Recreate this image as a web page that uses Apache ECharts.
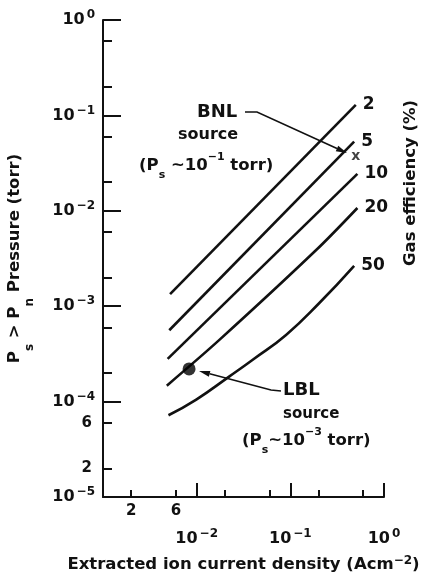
<!DOCTYPE html>
<html><head><meta charset="utf-8">
<script src="https://cdn.jsdelivr.net/npm/echarts@6/dist/echarts.min.js"></script>
<style>html,body{margin:0;padding:0;background:#fff}#c{width:423px;height:583px}</style>
</head><body><div id="c"></div>
<script>
// Gas-efficiency curves: extracted ion current density (A/cm^2) vs pressure (torr)
const efficiencyNames = ['2', '5', '10', '20', '50'];
const eff2Current  = [0.0052, 0.50];
const eff2Pressure = [0.00134, 0.129];
const eff5Current  = [0.0051, 0.48];
const eff5Pressure = [0.00056, 0.053];
const eff10Current  = [0.0049, 0.52];
const eff10Pressure = [0.00028, 0.0244];
const eff20Current  = [0.0048, 0.0176, 0.19, 0.52];
const eff20Pressure = [0.000147, 0.000446, 0.0039, 0.0107];
const eff50Current  = [0.0050, 0.0099, 0.0224, 0.0397, 0.090, 0.204, 0.48];
const eff50Pressure = [0.000072, 0.000105, 0.000184, 0.000275, 0.00050, 0.00108, 0.00265];
// source operating points
const lblPoint = [0.0083, 0.00022];
const bnlPoint = [0.50, 0.037];
// axis ticks / labels
const xMinorTicks  = [2e-3, 6e-3, 2e-2, 6e-2, 2e-1, 6e-1];
const xMinorLabels = [2e-3, 6e-3];
const yMinorTicks  = [2e-5, 6e-5, 2e-4, 6e-4, 2e-3, 6e-3, 2e-2, 6e-2, 2e-1, 6e-1];
const yMinorLabels = [2e-5, 6e-5];

const FONT = 'DejaVu Sans';
const INK = '#111';
const pair = (xs, ys) => xs.map((x, i) => [x, ys[i]]);
const curves = [
  pair(eff2Current, eff2Pressure),
  pair(eff5Current, eff5Pressure),
  pair(eff10Current, eff10Pressure),
  pair(eff20Current, eff20Pressure),
  pair(eff50Current, eff50Pressure)
];
const smoothness = [false, false, false, 0.3, 0.5];

function powLabel(v, hideExp) {
  const e = Math.round(Math.log10(v));
  if (hideExp !== undefined && e === hideExp) return '';
  return '{b|10}{s|' + (e < 0 ? '\u2212' + (-e) : e) + '}';
}
function mantissa(v) { return String(Math.round(Math.pow(10, v - Math.floor(v)))); }

const powRich = {
  b: {fontFamily: FONT, fontWeight: 'bold', fontSize: 16, lineHeight: 22, color: INK},
  s: {fontFamily: FONT, fontWeight: 'bold', fontSize: 12, lineHeight: 12, verticalAlign: 'top', color: INK, padding: [0, 0, 0, 2]}
};
const axisLineStyle = {color: INK, width: 2};

function arrow(points) {
  const n = points.length;
  const [x1, y1] = points[n - 2], [x2, y2] = points[n - 1];
  const a = Math.atan2(y2 - y1, x2 - x1), L = 11, W = 3;
  const bx = x2 - L * Math.cos(a), by = y2 - L * Math.sin(a);
  const px = -Math.sin(a) * W, py = Math.cos(a) * W;
  return [
    {type: 'polyline', silent: true, shape: {points: points.slice(0, n - 1).concat([[bx, by]])},
     style: {stroke: INK, lineWidth: 1.6, fill: null}},
    {type: 'polygon', silent: true, shape: {points: [[x2, y2], [bx + px, by + py], [bx - px, by - py]]},
     style: {fill: INK}}
  ];
}
function txt(x, y, text, size, align, rotation) {
  return {type: 'text', x: x, y: y, rotation: rotation || 0, silent: true, style: {
    text: text, fill: INK, fontFamily: FONT, fontWeight: 'bold', fontSize: size,
    textAlign: align || 'left', textVerticalAlign: 'middle',
    rich: {
      m: {fontFamily: FONT, fontWeight: 'bold', fontSize: size, lineHeight: size + 4, color: INK},
      sub: {fontFamily: FONT, fontWeight: 'bold', fontSize: 11, lineHeight: size + 12, verticalAlign: 'bottom', color: INK},
      sup: {fontFamily: FONT, fontWeight: 'bold', fontSize: 11, lineHeight: 11, verticalAlign: 'top', color: INK}
    }
  }};
}

const chart = echarts.init(document.getElementById('c'), null, {renderer: 'canvas'});
chart.setOption({
  animation: false,
  backgroundColor: '#fff',
  grid: {left: 103, right: 39, top: 20, bottom: 86, containLabel: false, outerBoundsMode: 'none'},
  xAxis: [
    {type: 'log', logBase: 10, min: 1e-3, max: 1, position: 'bottom',
     axisLine: {onZero: false, lineStyle: axisLineStyle},
     axisTick: {inside: true, length: 14, lineStyle: axisLineStyle},
     minorTick: {show: false}, splitLine: {show: false},
     axisLabel: {margin: 31, formatter: v => powLabel(v, -3), rich: powRich},
     name: '{m|Extracted ion current density (Acm}{s|\u22122}{m|)}',
     nameLocation: 'middle', nameGap: 58, nameMoveOverlap: false,
     nameTextStyle: {color: INK, fontFamily: FONT, fontWeight: 'bold', fontSize: 16.5, rich: {
       m: {fontFamily: FONT, fontWeight: 'bold', fontSize: 16.5, lineHeight: 20, color: INK},
       s: {fontFamily: FONT, fontWeight: 'bold', fontSize: 12, lineHeight: 12, verticalAlign: 'top', color: INK}
     }}},
    {type: 'value', min: -3, max: 0, position: 'bottom',
     axisLine: {show: false, onZero: false},
     axisTick: {show: true, inside: true, length: 7, customValues: xMinorTicks.map(Math.log10), lineStyle: axisLineStyle},
     splitLine: {show: false},
     axisLabel: {show: true, margin: 7, customValues: xMinorLabels.map(Math.log10), formatter: mantissa,
       color: INK, fontFamily: FONT, fontWeight: 'bold', fontSize: 15}}
  ],
  yAxis: [
    {type: 'log', logBase: 10, min: 1e-5, max: 1, position: 'left',
     axisLine: {onZero: false, lineStyle: axisLineStyle},
     axisTick: {inside: true, length: 18, lineStyle: axisLineStyle},
     minorTick: {show: false}, splitLine: {show: false},
     axisLabel: {margin: 8, formatter: v => powLabel(v), rich: powRich},
     name: '{m|P}{sub|s}{m| > P}{sub|n}{m| Pressure (torr)}',
     nameLocation: 'middle', nameRotate: 90, nameGap: 67, nameMoveOverlap: false,
     nameTextStyle: {color: INK, fontFamily: FONT, fontWeight: 'bold', fontSize: 16.5, rich: {
       m: {fontFamily: FONT, fontWeight: 'bold', fontSize: 16.5, lineHeight: 20, verticalAlign: 'top', color: INK},
       sub: {fontFamily: FONT, fontWeight: 'bold', fontSize: 12, lineHeight: 30, verticalAlign: 'bottom', color: INK}
     }}},
    {type: 'value', min: -5, max: 0, position: 'left',
     axisLine: {show: false, onZero: false},
     axisTick: {show: true, inside: true, length: 9, customValues: yMinorTicks.map(Math.log10), lineStyle: axisLineStyle},
     splitLine: {show: false},
     axisLabel: {show: true, margin: 11, customValues: yMinorLabels.map(Math.log10), formatter: mantissa,
       color: INK, fontFamily: FONT, fontWeight: 'bold', fontSize: 15}}
  ],
  series: curves.map((d, i) => ({
    type: 'line', name: efficiencyNames[i], data: d, xAxisIndex: 0, yAxisIndex: 0,
    showSymbol: false, smooth: smoothness[i], silent: true,
    lineStyle: {color: INK, width: 2.6},
    endLabel: {show: true, formatter: '{a}', distance: 7, color: INK, fontFamily: FONT, fontWeight: 'bold', fontSize: 17}
  })).concat([
    {type: 'scatter', name: 'LBL', data: [lblPoint], symbolSize: 13, itemStyle: {color: '#000'}, z: 5, silent: true},
    {type: 'scatter', name: 'BNL', data: [bnlPoint], symbolSize: 1, itemStyle: {color: 'rgba(0,0,0,0)'}, z: 5, silent: true,
     label: {show: true, position: 'inside', formatter: 'x', color: INK, fontFamily: FONT, fontWeight: 'bold', fontSize: 14}}
  ]),
  graphic: [
    txt(197, 112, '{m|BNL}', 18),
    txt(178, 135, '{m|source}', 16),
    txt(139, 166, '{m|(P}{sub|s}{m| ~10}{sup|\u22121}{m| torr)}', 16.5),
    txt(283, 390, '{m|LBL}', 18),
    txt(283, 414, '{m|source}', 15),
    txt(242, 441, '{m|(P}{sub|s}{m|~10}{sup|\u22123}{m| torr)}', 16.5),
    txt(411, 183, '{m|Gas efficiency (%)}', 16.5, 'center', Math.PI / 2)
  ].concat(
    arrow([[245, 112], [257, 112], [347, 153]]),
    arrow([[281, 391], [271, 390], [199, 371]])
  )
});
</script>
</body></html>
